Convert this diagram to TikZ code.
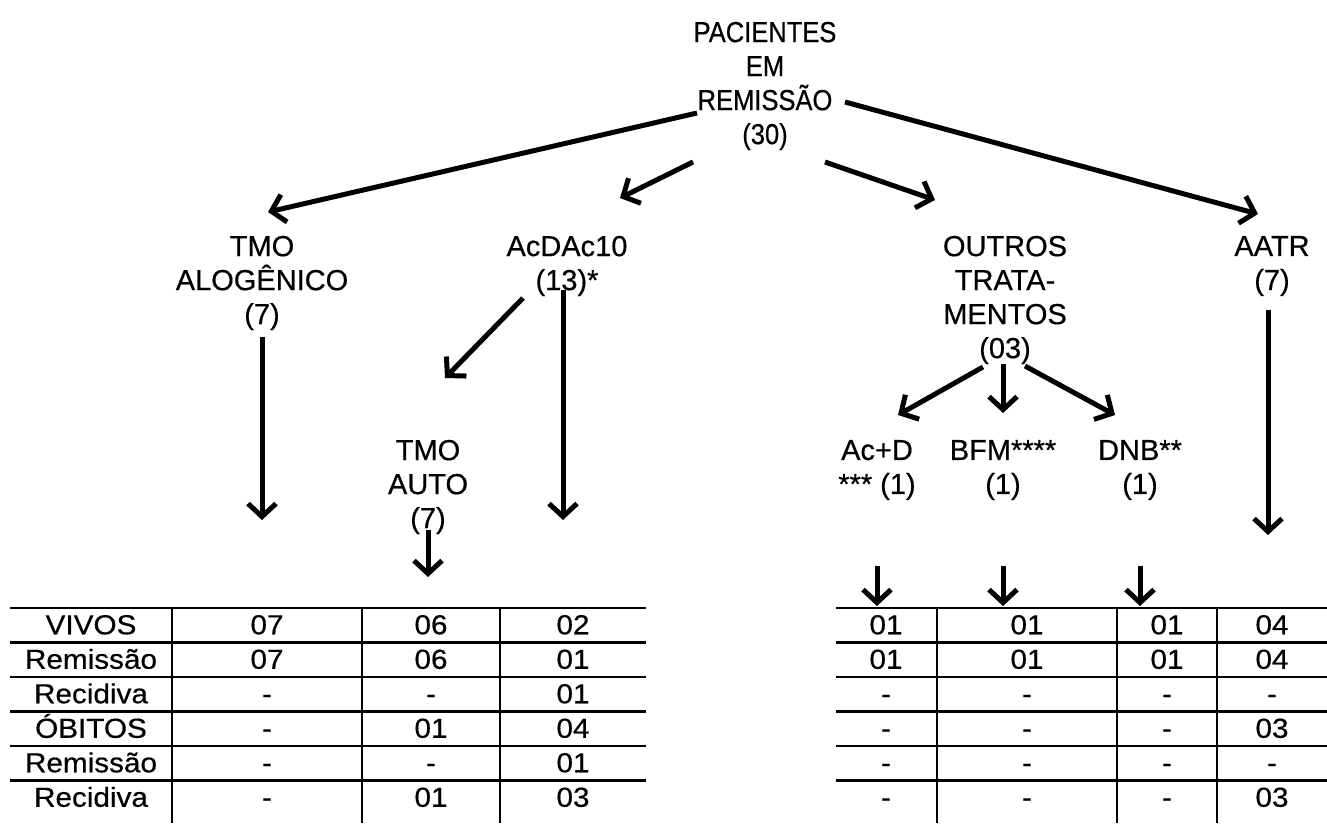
\documentclass[tikz,border=0pt]{standalone}
\usepackage{fontspec}
\setmainfont{Liberation Sans}[FakeBold=0.5]
\newfontfamily\rootfont{Liberation Sans}[FakeStretch=0.88,FakeBold=0.5]
\newfontfamily\cellfont{Liberation Sans}[FakeStretch=1.08,FakeBold=0.5]
\usetikzlibrary{arrows.meta,calc}
\begin{document}
\begin{tikzpicture}[x=1pt,y=-1pt,
  tree/.style={align=center, inner sep=0pt, font=\fontsize{29}{34}\selectfont},
  cell/.style={inner sep=0pt, anchor=base, font=\cellfont\fontsize{27.5}{30}\selectfont},
  arr/.style={line width=5pt, -{Straight Barb[length=13pt,width=28pt]}},
  rule/.style={line width=2.2pt}]
\useasboundingbox (0,0) rectangle (1327,823);
% tree nodes
\node[tree, font=\rootfont\fontsize{29}{34}\selectfont] (root) at (765,86) {PACIENTES\\EM\\REMISSÃO\\(30)};
\node[tree] (alog)   at (262,283) {TMO\\ALOGÊNICO\\(7)};
\node[tree] (acdac)  at (567,266) {AcDAc10\\(13)*};
\node[tree] (outros) at (1005,300) {OUTROS\\TRATA-\\MENTOS\\(03)};
\node[tree] (aatr)   at (1272,266) {AATR\\(7)};
\node[tree] (auto)   at (428,487) {TMO\\AUTO\\(7)};
\node[tree] (acd)    at (877,470) {Ac+D\\*** (1)};
\node[tree] (bfm)    at (1003,470) {BFM****\\(1)};
\node[tree] (dnb)    at (1140,470) {DNB**\\(1)};
% connectors
\draw[arr] ($(root)+(-68,27)$) -- ($(alog)+(6,-71)$);
\draw[arr] ($(root)+(-72,76)$) -- ($(acdac)+(53,-68)$);
\draw[arr] ($(root)+(60,76)$) -- ($(outros)+(-70,-100)$);
\draw[arr] ($(root)+(80,16)$) -- ($(aatr)+(-14,-52)$);
\draw[arr] ($(alog)+(0,54)$) -- ($(alog)+(0,237)$);
\draw[arr] ($(acdac)+(-44,32)$) -- ($(auto)+(17,-109)$);
\draw[arr] ($(acdac)+(-4,24)$) -- ($(acdac)+(-4,254)$);
\draw[arr] ($(auto)+(0,43)$) -- ($(auto)+(0,90)$);
\draw[arr] ($(outros)+(-22,67)$) -- ($(acd)+(21,-55)$);
\draw[arr] ($(outros)+(-2,64)$) -- ($(bfm)+(0,-57)$);
\draw[arr] ($(outros)+(20,66)$) -- ($(dnb)+(-25,-55)$);
\draw[arr] ($(aatr)+(-4,44)$) -- ($(aatr)+(-4,269)$);
\draw[arr] ($(acd)+(0,96)$) -- ($(acd)+(0,136)$);
\draw[arr] ($(bfm)+(0,96)$) -- ($(bfm)+(0,136)$);
\draw[arr] ($(dnb)+(0,96)$) -- ($(dnb)+(0,136)$);
% tables
\foreach \k in {0,...,5} {
  \draw[rule] (10,608+34.5*\k) -- (646,608+34.5*\k);
  \draw[rule] (836,608+34.5*\k) -- (1327,608+34.5*\k);
}
\foreach \x in {172,362,500,937,1117,1217}
  \draw[rule] (\x,608) -- (\x,823);
\foreach \r/\lab/\ca/\cb/\cc/\cd/\ce/\cf/\cg in {
  0/VIVOS/07/06/02/01/01/01/04,
  1/Remissão/07/06/01/01/01/01/04,
  2/Recidiva/-/-/01/-/-/-/-,
  3/ÓBITOS/-/01/04/-/-/-/03,
  4/Remissão/-/-/01/-/-/-/-,
  5/Recidiva/-/01/03/-/-/-/03} {
  \pgfmathsetmacro{\yy}{608+34.5*\r+17.25+9}
  \node[cell] (lab\r) at (91,\yy) {\lab};
  \node[cell] (ca\r) at (267,\yy) {\ca};
  \node[cell] (cb\r) at (431,\yy) {\cb};
  \node[cell] (cc\r) at (573,\yy) {\cc};
  \node[cell] (cd\r) at (886,\yy) {\cd};
  \node[cell] (ce\r) at (1027,\yy) {\ce};
  \node[cell] (cf\r) at (1167,\yy) {\cf};
  \node[cell] (cg\r) at (1272,\yy) {\cg};
}
\end{tikzpicture}
\end{document}
